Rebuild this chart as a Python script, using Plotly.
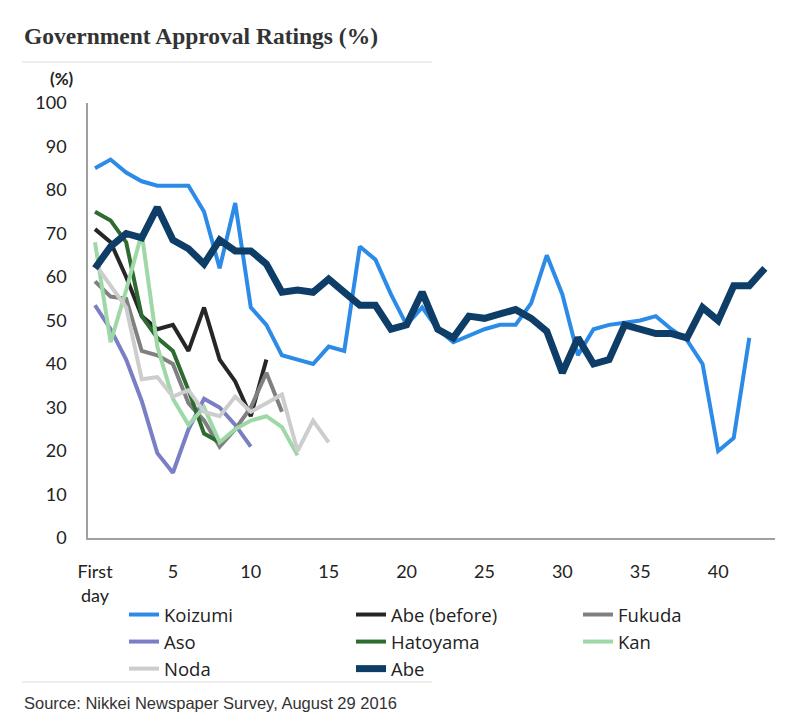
import plotly.graph_objects as go

# x positions: 0 = "First day"
days = list(range(44))
tick_vals = [0, 5, 10, 15, 20, 25, 30, 35, 40]
tick_text = ["First<br>day", "5", "10", "15", "20", "25", "30", "35", "40"]
y_ticks = [0, 10, 20, 30, 40, 50, 60, 70, 80, 90, 100]

koizumi = [85, 87, 84, 82, 81, 81, 81, 75, 62, 77, 53, 49, 42, 41, 40, 44, 43, 67, 64, 56,
           49, 53, 48, 45, 46.5, 48, 49, 49, 54, 65, 56, 42, 48, 49, 49.5, 50, 51, 48, 45.5, 40,
           20, 23, 46]
abe_before = [71, 68, 60, 51, 48, 49, 43, 53, 41, 36, 28, 41]
fukuda = [59, 55.5, 55, 43, 42, 40, 31, 27, 21, 25, 30, 38, 29]
aso = [53.5, 48, 41, 31.5, 19.5, 15, 25, 32, 30, 26, 21]
hatoyama = [75, 73, 68, 51, 46, 43, 34, 24, 22]
kan = [68, 45, 57, 70, 44, 32, 26, 30, 22, 25, 27, 28, 25.5, 19]
noda = [63, 58, 53, 36.5, 37, 32.5, 34, 29, 28, 32.5, 29, 31, 33, 20, 27, 22]
abe = [62, 67, 70, 69, 76, 68.5, 66.5, 63, 68.5, 66,
       66, 63, 56.5, 57, 56.5, 59.5, 56.5, 53.5, 53.5, 48,
       49, 56.5, 48, 46, 51, 50.5, 51.5, 52.5, 50.5, 47.5,
       38, 46, 40, 41, 49, 48, 47, 47, 46, 53,
       50, 58, 58, 62]

# (name, values, colour, width, legend column)
series = [
    ("Koizumi", koizumi, "#2D8BE8", 4, "legend"),
    ("Abe (before)", abe_before, "#262626", 4, "legend2"),
    ("Fukuda", fukuda, "#808080", 4, "legend3"),
    ("Aso", aso, "#7A7EC4", 4, "legend"),
    ("Hatoyama", hatoyama, "#2E6B31", 4, "legend2"),
    ("Kan", kan, "#9DD8A6", 4, "legend3"),
    ("Noda", noda, "#CDCDCD", 4, "legend"),
    ("Abe", abe, "#0E3D68", 7, "legend2"),
]

fig = go.Figure()
for name, vals, color, w, lg in series:
    fig.add_trace(go.Scatter(
        x=days[:len(vals)], y=vals, name=name, mode="lines",
        line=dict(color=color, width=w), legend=lg,
    ))

W, H = 800, 725
L, R, T, B = 88, 25, 103, 187
PW, PH = W - L - R, H - T - B

tick_font = dict(family="Lato, Open Sans, sans-serif", size=18, color="#222")
leg_font = dict(family="Open Sans, Lato, sans-serif", size=18.5, color="#222")


def leg(xpx):
    return dict(
        orientation="v", x=(xpx - L) / PW, xanchor="left",
        y=-(596 - (H - B)) / PH, yanchor="top",
        font=leg_font, tracegroupgap=0, itemwidth=30,
        bgcolor="rgba(0,0,0,0)",
    )


fig.update_layout(
    width=W, height=H,
    margin=dict(l=L, r=R, t=T, b=B, autoexpand=False),
    paper_bgcolor="white", plot_bgcolor="white",
    showlegend=True,
    legend=leg(124), legend2=leg(351), legend3=leg(578),
    xaxis=dict(
        range=[-0.45, 43.65], tickmode="array", tickvals=tick_vals, ticktext=tick_text,
        showgrid=False, zeroline=False, showline=True, linecolor="#A0A0A0", linewidth=1.5,
        ticks="", tickfont=tick_font, ticklabelstandoff=17,
    ),
    yaxis=dict(
        range=[0, 100], tickmode="array", tickvals=y_ticks,
        showgrid=False, zeroline=False, showline=True, linecolor="#A0A0A0", linewidth=1.5,
        ticks="", tickfont=tick_font, ticklabelstandoff=16,
    ),
    annotations=[
        dict(text="<b>Government Approval Ratings (%)</b>", xref="paper", yref="paper",
             x=-(L - 22) / PW, y=1 + (103 - 36) / PH,
             xanchor="left", yanchor="middle", showarrow=False,
             font=dict(family="Liberation Serif, Times New Roman, serif", size=23.5, color="#333")),
        dict(text="<b>(%)</b>", xref="paper", yref="paper",
             x=-(L - 62) / PW, y=1 + (103 - 79) / PH,
             xanchor="center", yanchor="middle", showarrow=False,
             font=dict(family="Lato, Open Sans, sans-serif", size=17, color="#222")),
        dict(text="Source: Nikkei Newspaper Survey, August 29 2016", xref="paper", yref="paper",
             x=-(L - 22) / PW, y=-(703 - (H - B)) / PH,
             xanchor="left", yanchor="middle", showarrow=False,
             font=dict(family="Liberation Sans, Arial, sans-serif", size=16.5, color="#333")),
    ],
    shapes=[
        dict(type="line", xref="paper", yref="paper",
             x0=-(L - 22) / PW, x1=(432 - L) / PW,
             y0=1 + (103 - 62) / PH, y1=1 + (103 - 62) / PH,
             line=dict(color="#DDDDDD", width=1)),
        dict(type="line", xref="paper", yref="paper",
             x0=-(L - 22) / PW, x1=(432 - L) / PW,
             y0=-(682 - (H - B)) / PH, y1=-(682 - (H - B)) / PH,
             line=dict(color="#DDDDDD", width=1)),
    ],
)

fig.write_html("out.html")
